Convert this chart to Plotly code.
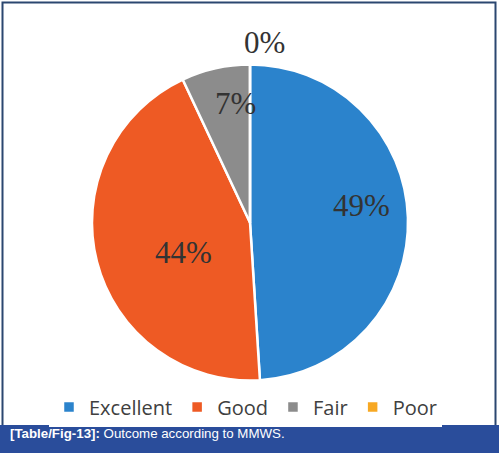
import math
import plotly.graph_objects as go

labels = ["Excellent", "Good", "Fair", "Poor"]
values = [49, 44, 7, 0]
colors = ["#2b83cc", "#ee5a24", "#8c8c8c", "#f7a823"]

# label placement (offset from pie centre, in units of the pie radius; +dy is up)
label_dx = [0.706, -0.421, -0.089, 0.089]
label_dy = [0.105, -0.187, 0.750, 1.139]

W, H = 499, 453
dom_x = [92, 408]          # px
dom_y_top, dom_y_bot = 64, 381  # px from top

fig = go.Figure()
fig.add_trace(go.Pie(
    labels=labels,
    values=values,
    sort=False,
    direction="clockwise",
    rotation=0,
    marker=dict(colors=colors, line=dict(color="white", width=2.5)),
    textinfo="none",
    hoverinfo="label+percent",
    domain=dict(x=[dom_x[0] / W, dom_x[1] / W],
                y=[(H - dom_y_bot) / H, (H - dom_y_top) / H]),
    showlegend=True,
))

# pie geometry (plotly fits the circle into the domain)
cx = (dom_x[0] + dom_x[1]) / 2
cy = (dom_y_top + dom_y_bot) / 2
R = min(dom_x[1] - dom_x[0], dom_y_bot - dom_y_top) / 2
total = sum(values)

annotations = []
for v, dx, dy in zip(values, label_dx, label_dy):
    pct = round(100 * v / total)
    px = cx + dx * R
    py = cy - dy * R
    annotations.append(dict(
        xref="paper", yref="paper", x=px / W, y=(H - py) / H,
        xanchor="center", yanchor="middle", showarrow=False,
        text=f"{pct}%",
        font=dict(family="Liberation Serif", size=31, color="#333333"),
    ))

annotations.append(dict(
    xref="paper", yref="paper", x=8 / W, y=(H - 433) / H,
    xanchor="left", yanchor="middle", showarrow=False,
    text="<b>[Table/Fig-13]:</b> Outcome according to MMWS.",
    font=dict(family="Liberation Sans", size=13.3, color="white"),
))

fig.update_layout(
    width=W, height=H,
    margin=dict(l=0, r=0, t=0, b=0),
    paper_bgcolor="white",
    plot_bgcolor="white",
    legend=dict(
        orientation="h",
        x=0.5 - 4 / W, xanchor="center",
        y=(H - 407) / H, yanchor="middle",
        font=dict(family="Open Sans", size=20, color="#404040"),
        itemwidth=30,
        traceorder="normal",
    ),
    shapes=[
        dict(type="rect", xref="paper", yref="paper",
             x0=2.5 / W, x1=495.5 / W, y0=(H - 426) / H, y1=(H - 2.5) / H,
             line=dict(color="#2b4770", width=2), fillcolor="rgba(0,0,0,0)"),
        dict(type="rect", xref="paper", yref="paper",
             x0=0, x1=1, y0=0, y1=(H - 425) / H,
             line=dict(width=0), fillcolor="#2a4d9b"),
    ],
    annotations=annotations,
)

fig.write_html("out.html", config={"displayModeBar": False},
               post_script="document.body.style.margin='0';")
